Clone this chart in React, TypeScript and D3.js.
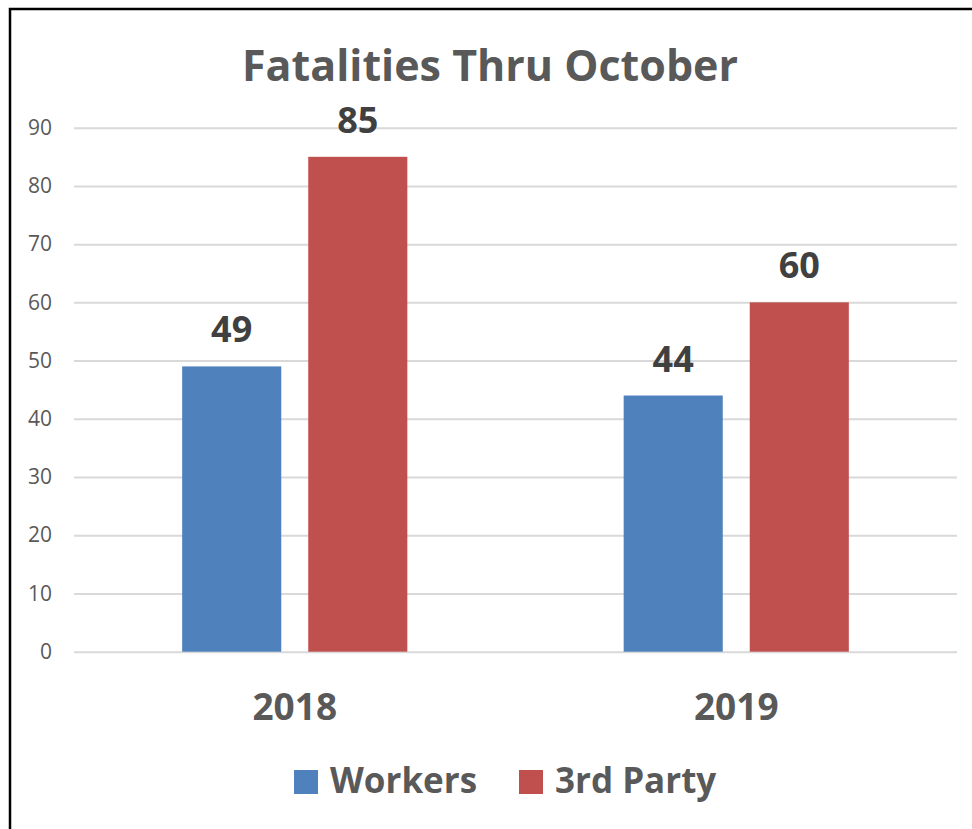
import { useEffect, useRef } from "react";
import * as d3 from "d3";

const years = ["2018", "2019"];
const seriesNames = ["Workers", "3rd Party"];
const workers = [49, 44];
const thirdParty = [85, 60];
const yTicks = [0, 10, 20, 30, 40, 50, 60, 70, 80, 90];
const colors = ["#4F81BD", "#C0504D"];

const W = 972;
const H = 829;
const FONT = "'Open Sans', sans-serif";

const App = () => {
  const ref = useRef<SVGSVGElement>(null);

  useEffect(() => {
    const svg = d3.select(ref.current);
    svg.selectAll("*").remove();

    const plot = { left: 74, right: 957, top: 127.7, bottom: 651.7 };

    // frame, cut off at right and bottom like the screenshot
    svg
      .append("rect")
      .attr("x", 10)
      .attr("y", 9)
      .attr("width", W + 20)
      .attr("height", H + 20)
      .attr("fill", "#fff")
      .attr("stroke", "#000")
      .attr("stroke-width", 2.5);

    svg
      .append("text")
      .attr("x", 490)
      .attr("y", 81)
      .attr("text-anchor", "middle")
      .attr("font-family", FONT)
      .attr("font-weight", 700)
      .attr("font-size", 43)
      .attr("fill", "#595959")
      .text("Fatalities Thru October");

    const y = d3
      .scaleLinear()
      .domain([0, 90])
      .range([plot.bottom, plot.top]);

    const x0 = d3
      .scaleBand()
      .domain(years)
      .range([plot.left, plot.right])
      .paddingInner(0.49)
      .paddingOuter(0.245);

    const x1 = d3
      .scaleBand()
      .domain(seriesNames)
      .range([0, x0.bandwidth()])
      .paddingInner(0.214);

    // grid
    const yAxis = svg
      .append("g")
      .attr("transform", `translate(${plot.left},0)`)
      .call(
        d3
          .axisLeft(y)
          .tickValues(yTicks)
          .tickSize(-(plot.right - plot.left))
          .tickPadding(22)
      );
    yAxis.select(".domain").remove();
    yAxis.selectAll(".tick line").attr("stroke", "#D9D9D9").attr("stroke-width", 2);
    yAxis
      .selectAll(".tick text")
      .attr("fill", "#595959")
      .attr("font-family", FONT)
      .attr("font-size", 21);

    const rows = years.map((yr, i) => ({
      year: yr,
      values: [workers[i], thirdParty[i]],
    }));

    const groups = svg
      .append("g")
      .selectAll("g")
      .data(rows)
      .enter()
      .append("g")
      .attr("transform", (d) => `translate(${x0(d.year)},0)`);

    groups
      .selectAll("rect")
      .data((d) => d.values.map((v, j) => ({ v, name: seriesNames[j], j })))
      .enter()
      .append("rect")
      .attr("x", (d) => x1(d.name)!)
      .attr("y", (d) => y(d.v))
      .attr("width", x1.bandwidth())
      .attr("height", (d) => plot.bottom - y(d.v))
      .attr("fill", (d) => colors[d.j]);

    groups
      .selectAll("text.val")
      .data((d) => d.values.map((v, j) => ({ v, name: seriesNames[j] })))
      .enter()
      .append("text")
      .attr("class", "val")
      .attr("x", (d) => x1(d.name)! + x1.bandwidth() / 2)
      .attr("y", (d) => y(d.v) - 24)
      .attr("text-anchor", "middle")
      .attr("font-family", FONT)
      .attr("font-weight", 700)
      .attr("font-size", 36)
      .attr("fill", "#404040")
      .text((d) => d.v);

    // category labels
    svg
      .append("g")
      .selectAll("text")
      .data(years)
      .enter()
      .append("text")
      .attr("x", (d) => x0(d)! + x0.bandwidth() / 2)
      .attr("y", 720)
      .attr("text-anchor", "middle")
      .attr("font-family", FONT)
      .attr("font-weight", 700)
      .attr("font-size", 37)
      .attr("fill", "#595959")
      .text((d) => d);

    // legend
    const legendX = [294, 519];
    const legend = svg
      .append("g")
      .selectAll("g")
      .data(seriesNames)
      .enter()
      .append("g")
      .attr("transform", (_, i) => `translate(${legendX[i]},770)`);
    legend
      .append("rect")
      .attr("width", 24)
      .attr("height", 24)
      .attr("fill", (_, i) => colors[i]);
    legend
      .append("text")
      .attr("x", 36)
      .attr("y", 23)
      .attr("font-family", FONT)
      .attr("font-weight", 700)
      .attr("font-size", 35)
      .attr("fill", "#595959")
      .text((d) => d);
  }, []);

  return (
    <svg
      ref={ref}
      width={W}
      height={H}
      style={{ position: "absolute", left: 0, top: 0, background: "#fff" }}
    />
  );
};

export default App;
